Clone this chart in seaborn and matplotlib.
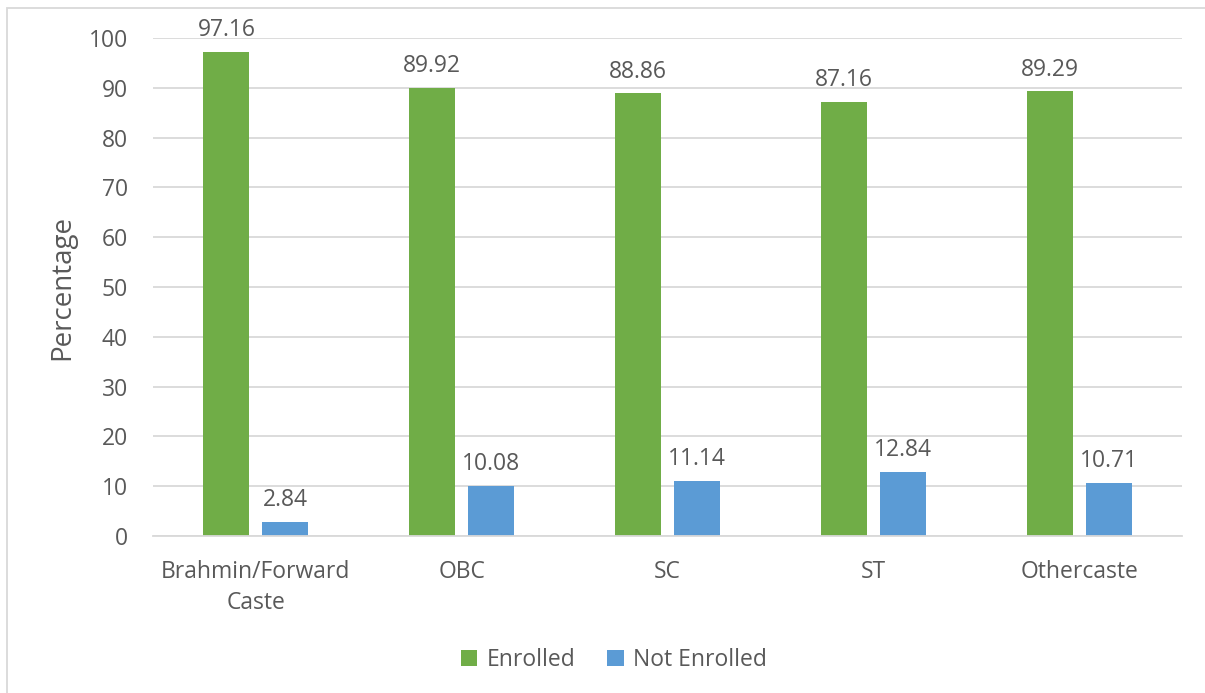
import matplotlib
matplotlib.use("Agg")
import matplotlib.pyplot as plt
import seaborn as sns
import pandas as pd
from matplotlib.patches import Rectangle

categories = ["Brahmin/Forward\nCaste", "OBC", "SC", "ST", "Othercaste"]
enrolled = [97.16, 89.92, 88.86, 87.16, 89.29]
not_enrolled = [2.84, 10.08, 11.14, 12.84, 10.71]
series = ["Enrolled", "Not Enrolled"]
colors = ["#70AD47", "#5B9BD5"]

df = pd.DataFrame({
    "Category": categories * 2,
    "Status": [series[0]] * len(categories) + [series[1]] * len(categories),
    "Percentage": enrolled + not_enrolled,
})

sns.set_theme(style="white")
plt.rcParams["font.family"] = ["Open Sans", "DejaVu Sans"]
text_color = "#595959"
fs = 16.5

fig = plt.figure(figsize=(12.05, 6.93), dpi=100)
ax = fig.add_axes([153 / 1205, 1 - 536 / 693, (1182 - 153) / 1205, (536 - 38) / 693])

sns.barplot(data=df, x="Category", y="Percentage", hue="Status",
            palette=colors, width=0.573, gap=0.22, ax=ax, saturation=1,
            edgecolor="none", legend=True)

ax.set_ylim(0, 100)
ax.set_xlim(-0.5, len(categories) - 0.5)
ax.set_yticks(range(0, 101, 10))
ax.yaxis.grid(True, color="#D9D9D9", linewidth=1.3)
ax.set_axisbelow(True)
for side in ["top", "right", "left"]:
    ax.spines[side].set_visible(False)
ax.spines["bottom"].set_color("#D9D9D9")
ax.spines["bottom"].set_linewidth(1.3)
ax.tick_params(axis="both", length=0, labelsize=fs, colors=text_color)
ax.tick_params(axis="x", pad=17)
ax.tick_params(axis="y", pad=18)
for lbl in ax.get_xticklabels():
    lbl.set_linespacing(1.4)
ax.set_xlabel("")
ax.set_ylabel("Percentage", fontsize=20, color=text_color, labelpad=9)

for container in ax.containers:
    ax.bar_label(container, fmt="%.2f", padding=7, fontsize=fs, color=text_color)

handles, labels = ax.get_legend_handles_labels()
ax.legend(handles, labels, loc="center", bbox_to_anchor=(614 / 1205, 1 - 660 / 693),
          bbox_transform=fig.transFigure, ncol=2, frameon=False, fontsize=fs,
          labelcolor=text_color, handlelength=0.7, handleheight=0.7,
          handletextpad=0.4, columnspacing=1.4)

fig.patches.append(Rectangle((7 / 1205, -0.05), 1.1, 1 - 8 / 693 + 0.05,
                             transform=fig.transFigure, fill=False,
                             edgecolor="#D9D9D9", linewidth=1.3))

fig.savefig("out.png", dpi=100, facecolor="white")
